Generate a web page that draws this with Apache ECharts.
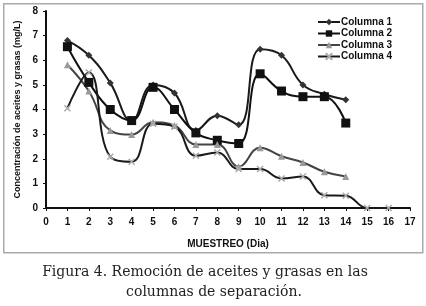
<!DOCTYPE html>
<html>
<head>
<meta charset="utf-8">
<script src="https://cdn.jsdelivr.net/npm/echarts@6/dist/echarts.min.js"></script>
<style>
  html, body { margin: 0; padding: 0; background: #fff; }
  #main { width: 426px; height: 306px; }
</style>
</head>
<body>
<div id="main"></div>
<script>
// dias de muestreo
var dias = [1, 2, 3, 4, 5, 6, 7, 8, 9, 10, 11, 12, 13, 14, 15, 16];
var columna1 = [6.8, 6.2, 5.08, 3.55, 5.0, 4.67, 3.15, 3.75, 3.38, 6.45, 6.2, 5.0, 4.62, 4.4];
var columna2 = [6.55, 5.1, 4.0, 3.55, 4.9, 4.0, 3.05, 2.75, 2.62, 5.45, 4.75, 4.52, 4.52, 3.45];
var columna3 = [5.82, 4.75, 3.15, 2.98, 3.48, 3.35, 2.58, 2.58, 1.68, 2.45, 2.1, 1.85, 1.47, 1.28];
var columna4 = [4.05, 5.5, 2.08, 1.88, 3.42, 3.3, 2.12, 2.25, 1.58, 1.58, 1.2, 1.28, 0.52, 0.5, 0, 0];
var xTicks = 17;
var yTicks = 8;

function pares(vals) {
    var out = [];
    for (let i = 0; i < vals.length; i++) {
        out.push([dias[i], vals[i]]);
    }
    return out;
}

var cruz = 'path://M0,0L10,10M10,0L0,10';
var lbl = { fontFamily: 'Liberation Sans', fontWeight: 'bold', fontSize: 10, color: '#111' };
var pie = { font: '14px "DejaVu Serif"', fill: '#222', align: 'center' };

var myChart = echarts.init(document.getElementById('main'));
myChart.setOption({
    animation: false,
    backgroundColor: '#fff',
    grid: { left: 46, right: 16, top: 11, bottom: 98 },
    legend: {
        orient: 'vertical',
        left: 312,
        top: 12,
        itemWidth: 22,
        itemHeight: 8,
        itemGap: 1.5,
        textStyle: { fontFamily: 'Liberation Sans', fontWeight: 'bold', fontSize: 10, color: '#111', padding: [0, 0, 0, -4] },
        data: ['Columna 1', 'Columna 2', 'Columna 3', 'Columna 4']
    },
    xAxis: {
        type: 'value',
        min: 0,
        max: xTicks,
        interval: 1,
        name: 'MUESTREO (Dia)',
        nameLocation: 'middle',
        nameGap: 31,
        nameTextStyle: lbl,
        axisLine: { lineStyle: { color: '#111', width: 2 } },
        axisTick: { show: true, length: 3, lineStyle: { color: '#111' } },
        axisLabel: Object.assign({ margin: 9 }, lbl),
        splitLine: { show: false }
    },
    yAxis: {
        type: 'value',
        min: 0,
        max: yTicks,
        interval: 1,
        name: 'Concentración de aceites y grasas (mg/L)',
        nameLocation: 'middle',
        nameRotate: 90,
        nameGap: 20,
        nameTextStyle: Object.assign({}, lbl, { fontSize: 9 }),
        axisLine: { show: true, lineStyle: { color: '#111', width: 2 } },
        axisTick: { show: true, length: 3, lineStyle: { color: '#111' } },
        axisLabel: Object.assign({ margin: 8 }, lbl),
        splitLine: { show: false }
    },
    series: [
        {
            name: 'Columna 1', type: 'line', smooth: 0.45,
            data: pares(columna1),
            symbol: 'diamond', symbolSize: 7,
            lineStyle: { color: '#1a1a1a', width: 2 },
            itemStyle: { color: '#333' }
        },
        {
            name: 'Columna 2', type: 'line', smooth: 0.45,
            data: pares(columna2),
            symbol: 'rect', symbolSize: 9,
            lineStyle: { color: '#111', width: 2 },
            itemStyle: { color: '#111' }
        },
        {
            name: 'Columna 3', type: 'line', smooth: 0.45,
            data: pares(columna3),
            symbol: 'triangle', symbolSize: 7,
            lineStyle: { color: '#444', width: 2 },
            itemStyle: { color: '#999' }
        },
        {
            name: 'Columna 4', type: 'line', smooth: 0.45,
            data: pares(columna4),
            symbol: cruz, symbolSize: 6,
            lineStyle: { color: '#1a1a1a', width: 2 },
            itemStyle: { color: '#fff', borderColor: '#aaa', borderWidth: 1.5 }
        }
    ],
    graphic: [
        {
            type: 'rect', left: 3, top: 3, z: -1,
            shape: { width: 419, height: 249 },
            style: { fill: '#fff', stroke: '#aaa', lineWidth: 1.5 }
        },
        {
            type: 'text', x: 205, y: 265,
            style: Object.assign({ text: 'Figura 4. Remoción de aceites y grasas en las' }, pie)
        },
        {
            type: 'text', x: 214, y: 285,
            style: Object.assign({ text: 'columnas de separación.' }, pie)
        }
    ]
});
</script>
</body>
</html>
